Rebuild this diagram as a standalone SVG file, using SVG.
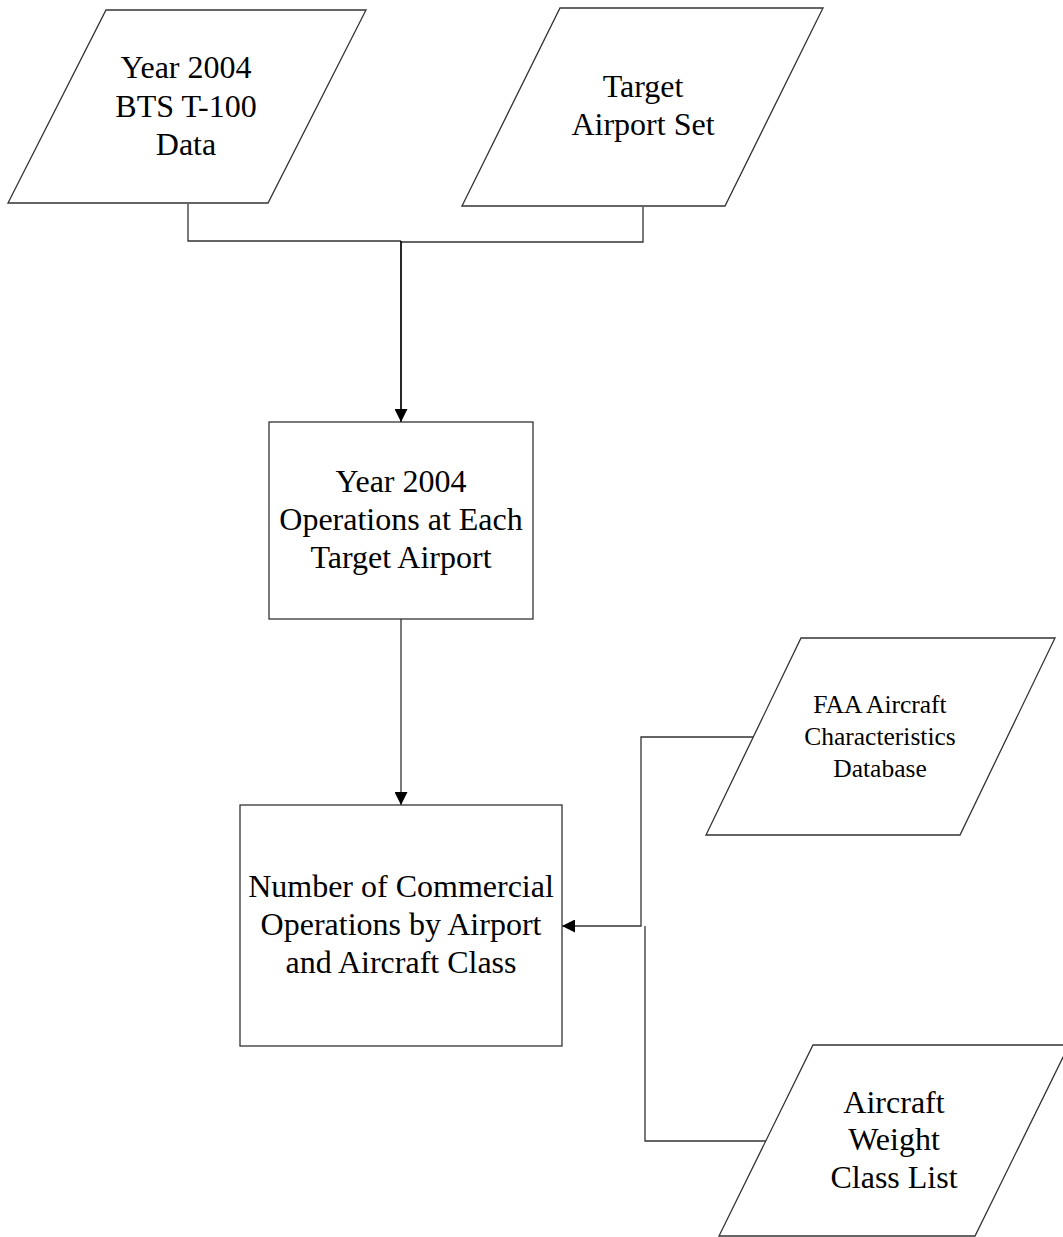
<svg xmlns="http://www.w3.org/2000/svg" width="1063" height="1237" viewBox="0 0 1063 1237">
<style>
.shape{fill:#ffffff;stroke:#333333;stroke-width:1.3}
.conn{fill:none;stroke:#333333;stroke-width:1.3}
.main{fill:none;stroke:#111111;stroke-width:1.8}
.t{font-family:"Liberation Serif","Times New Roman",serif;font-size:32px;fill:#000000;text-anchor:middle}
.s{font-size:25.5px}
</style>
<defs>
<marker id="arr" markerWidth="13" markerHeight="13" viewBox="0 0 13 13" refX="13" refY="6.5" orient="auto" markerUnits="userSpaceOnUse">
<path d="M0,0 L13,6.5 L0,13 z" fill="#000000"/>
</marker>
</defs>
<rect width="1063" height="1237" fill="#ffffff"/>
<g id="connectors">
<polyline class="conn" points="188,204 188,241 401,241"/>
<polyline class="conn" points="643,207 643,242 401,242"/>
<line class="main" x1="401" y1="241" x2="401" y2="422" marker-end="url(#arr)"/>
<line class="conn" x1="401" y1="619" x2="401" y2="805" marker-end="url(#arr)"/>
<polyline class="conn" points="753,737 641,737 641,926 562,926" marker-end="url(#arr)"/>
<polyline class="conn" points="766,1141 645,1141 645,926"/>
</g>
<g id="bts">
<polygon class="shape" points="106,10 366,10 268,203 8,203"/>
<text class="t" x="186" y="78">Year 2004</text>
<text class="t" x="186" y="117">BTS T-100</text>
<text class="t" x="186" y="155">Data</text>
</g>
<g id="target">
<polygon class="shape" points="560,8 823,8 725,206 462,206"/>
<text class="t" x="643" y="97">Target</text>
<text class="t" x="643" y="135">Airport Set</text>
</g>
<g id="ops2004">
<rect class="shape" x="269" y="422" width="264" height="197"/>
<text class="t" x="401" y="492">Year 2004</text>
<text class="t" x="401" y="530">Operations at Each</text>
<text class="t" x="401" y="568">Target Airport</text>
</g>
<g id="commercial">
<rect class="shape" x="240" y="805" width="322" height="241"/>
<text class="t" x="401" y="897">Number of Commercial</text>
<text class="t" x="401" y="935">Operations by Airport</text>
<text class="t" x="401" y="973">and Aircraft Class</text>
</g>
<g id="faa">
<polygon class="shape" points="801,638 1055,638 960,835 706,835"/>
<text class="t s" x="880" y="713">FAA Aircraft</text>
<text class="t s" x="880" y="745">Characteristics</text>
<text class="t s" x="880" y="777">Database</text>
</g>
<g id="weight">
<polygon class="shape" points="813,1045 1069,1045 975,1236 719,1236"/>
<text class="t" x="894" y="1113">Aircraft</text>
<text class="t" x="894" y="1150">Weight</text>
<text class="t" x="894" y="1188">Class List</text>
</g>
</svg>
